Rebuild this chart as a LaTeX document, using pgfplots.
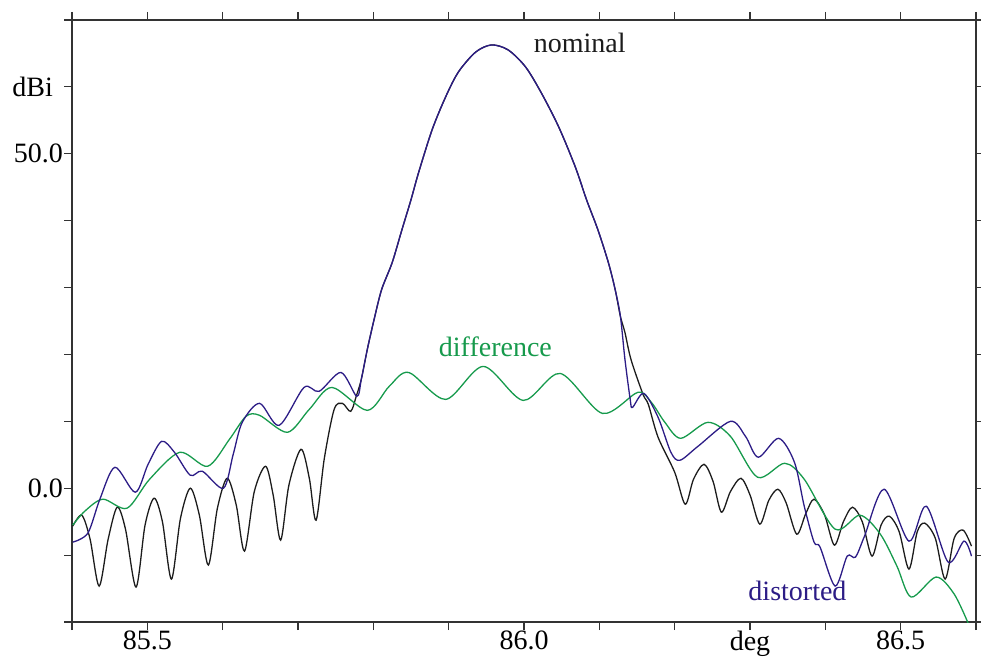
\documentclass[border=0pt]{standalone}
\usepackage{pgfplots}
\pgfplotsset{compat=1.18}
\usepackage{fontspec}
\setmainfont{Liberation Serif}
\definecolor{nomc}{HTML}{1C1C1C}
\definecolor{disc}{HTML}{2C1C86}
\definecolor{difc}{HTML}{169A4C}
\definecolor{axc}{HTML}{333333}
\begin{document}
\fontsize{28}{32}\selectfont
\begin{tikzpicture}
\begin{axis}[
  scale only axis, width=904pt, height=602pt,
  xmin=85.4, xmax=86.6, ymin=-20, ymax=70,
  axis line style={axc, line width=1.2pt},
  every tick/.style={axc, line width=1.2pt},
  tick align=outside, major tick length=8pt,
  xtick={85.4,85.5,85.6,85.7,85.8,85.9,86.0,86.1,86.2,86.3,86.4,86.5,86.6},
  xticklabels={,85.5,,,,,86.0,,,deg,,86.5,},
  ytick={-20,-10,0,10,20,30,40,50,60,70},
  yticklabels={,,0.0,,,,,50.0,{dBi\kern10pt},},
  xticklabel pos=lower, yticklabel pos=left,
  tick label style={font=\fontsize{28}{32}\selectfont, inner sep=1pt},
  /pgf/number format/assume math mode=true,
  clip=true,
]
% nominal
\addplot[nomc, line width=1.3pt, smooth, tension=0.5] coordinates {
(85.401,-5.67) (85.413,-4.03) (85.424,-7.61) (85.436,-14.63) (85.448,-7.61)
(85.460,-2.84) (85.471,-6.12) (85.485,-14.78) (85.497,-5.5) (85.509,-1.49)
(85.520,-5.0) (85.532,-13.58) (85.544,-4.5) (85.557,0) (85.569,-4.0)
(85.581,-11.49) (85.593,-3.0) (85.606,1.49) (85.618,-2.5) (85.629,-9.40)
(85.642,-0.5) (85.657,3.28) (85.667,-1.0) (85.677,-7.76) (85.688,0.5)
(85.704,5.82) (85.715,1.5) (85.724,-4.78) (85.735,4.5) (85.748,11.79)
(85.759,12.69) (85.770,11.49) (85.778,14.0) (85.784,16.27)
(85.792,20.75) (85.801,25.22) (85.811,29.70) (85.825,33.73) (85.838,38.66)
(85.850,43.13) (85.860,47.16) (85.878,53.58) (85.896,58.51) (85.913,62.24)
(85.936,65.22) (85.957,66.27) (85.979,65.52) (86.002,62.99) (86.023,59.10)
(86.046,54.03) (86.068,48.06) (86.083,43.13) (86.098,38.66) (86.112,33.73)
(86.121,29.70) (86.128,25.67) (86.134,23.28) (86.142,19.25) (86.158,14.03)
(86.165,12.54) (86.178,7.61) (86.200,2.39) (86.214,-2.39) (86.225,1.34)
(86.239,3.58) (86.251,1.0) (86.262,-3.58) (86.274,-0.5) (86.288,1.49)
(86.300,-1.0) (86.313,-5.37) (86.325,-1.8) (86.337,-0.15) (86.348,-2.2)
(86.362,-6.87) (86.374,-3.8) (86.385,-1.64) (86.399,-4.0) (86.412,-8.51)
(86.424,-5.0) (86.436,-2.84) (86.449,-5.0) (86.462,-10.15) (86.474,-5.5)
(86.485,-4.18) (86.498,-6.5) (86.511,-12.09) (86.522,-6.5) (86.532,-5.22)
(86.546,-7.5) (86.559,-13.58) (86.571,-7.5) (86.583,-6.27) (86.594,-8.66)
};
% difference
\addplot[difc, line width=1.3pt, smooth] coordinates {
(85.401,-5.52) (85.417,-3.43) (85.441,-1.64) (85.473,-2.99) (85.503,1.34)
(85.543,5.37) (85.580,3.28) (85.609,7.31) (85.631,10.75) (85.649,10.90)
(85.686,8.36) (85.715,11.79) (85.745,15.07) (85.792,11.64) (85.821,15.22)
(85.847,17.31) (85.896,13.28) (85.946,18.21) (85.999,13.13) (86.048,17.16)
(86.104,11.19) (86.151,14.33) (86.169,12.84) (86.187,9.85) (86.208,7.46)
(86.244,9.85) (86.274,7.76) (86.310,1.64) (86.346,3.73) (86.372,1.34)
(86.413,-6.12) (86.446,-4.03) (86.473,-6.87) (86.495,-11.64) (86.514,-16.27)
(86.547,-13.28) (86.571,-15.82) (86.590,-20.3)
};
% distorted
\addplot[disc, line width=1.3pt, smooth, tension=0.5] coordinates {
(85.401,-8.06) (85.421,-6.72) (85.437,-1.64) (85.457,3.13) (85.484,-0.60)
(85.501,3.58) (85.519,7.01) (85.536,5.37) (85.557,1.94) (85.573,2.54)
(85.601,0) (85.614,5.07) (85.626,9.85) (85.649,12.69) (85.675,9.40)
(85.708,15.07) (85.728,14.48) (85.757,17.31) (85.778,13.73) (85.784,16.27)
(85.792,20.75) (85.801,25.22) (85.811,29.70) (85.825,33.73) (85.838,38.66)
(85.850,43.13) (85.860,47.16) (85.878,53.58) (85.896,58.51) (85.913,62.24)
(85.936,65.22) (85.957,66.27) (85.979,65.52) (86.002,62.99) (86.023,59.10)
(86.046,54.03) (86.068,48.06) (86.083,43.13) (86.098,38.66) (86.112,33.73)
(86.121,29.70) (86.128,25.67) (86.134,19.25) (86.141,13.28) (86.144,12.09)
(86.159,14.18) (86.178,10.60) (86.195,5.37) (86.207,4.18)
(86.231,6.27) (86.274,10.0) (86.294,7.76) (86.311,4.63) (86.338,7.46)
(86.359,3.88) (86.372,-2.69) (86.385,-8.06) (86.393,-8.81) (86.413,-14.63)
(86.429,-10.15) (86.440,-10.30) (86.452,-7.16) (86.478,-0.15) (86.511,-7.91)
(86.534,-2.69) (86.563,-11.04) (86.584,-7.91) (86.594,-10.15)
};
\node[anchor=base, text=nomc, font=\fontsize{28}{32}\selectfont] at (axis cs:86.074,65.2) {nominal};
\node[anchor=base, text=difc, font=\fontsize{28}{32}\selectfont] at (axis cs:85.962,19.75) {difference};
\node[anchor=base, text=disc, font=\fontsize{28}{32}\selectfont] at (axis cs:86.363,-16.8) {distorted};
\end{axis}
\pgfresetboundingbox
\path ([xshift=-72pt,yshift=-39pt]current axis.south west) rectangle ([xshift=5pt,yshift=20pt]current axis.north east);
\end{tikzpicture}
\end{document}
